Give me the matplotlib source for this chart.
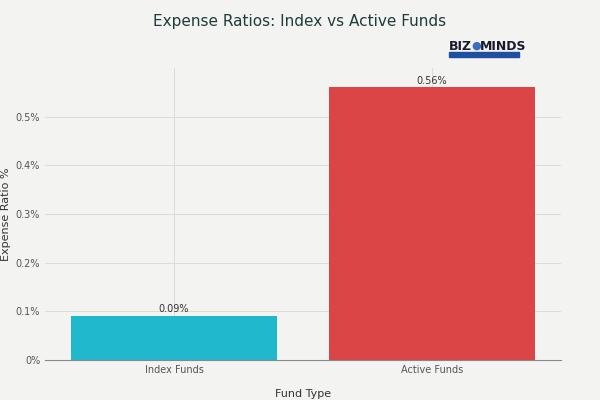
import matplotlib.pyplot as plt
from matplotlib.ticker import FuncFormatter

categories = ["Index Funds", "Active Funds"]
values = [0.09, 0.56]
colors = ["#1fb8cd", "#db4545"]

bg = "#f3f3f1"
fig = plt.figure(figsize=(6, 4), dpi=100, facecolor=bg)
ax = fig.add_axes([0.075, 0.1, 0.86, 0.73], facecolor=bg)

bars = ax.bar(categories, values, color=colors, width=0.8)
for b, v in zip(bars, values):
    ax.text(b.get_x() + b.get_width() / 2, v + 0.004, f"{v:.2f}%", ha="center", va="bottom",
            fontsize=7, color="#333333")

ax.set_ylim(0, 0.6)
ax.set_xlim(-0.5, 1.5)
ax.set_yticks([0, 0.1, 0.2, 0.3, 0.4, 0.5])
ax.yaxis.set_major_formatter(FuncFormatter(lambda y, p: f"{y:.1f}%".replace("0.0%", "0%")))
ax.grid(True, color="#dcdcdc", linewidth=0.7)
ax.set_axisbelow(True)
for s in ["top", "right", "left"]:
    ax.spines[s].set_visible(False)
ax.spines["bottom"].set_color("#888888")
ax.tick_params(length=0, labelsize=7, colors="#555555")
ax.set_xlabel("Fund Type", fontsize=8, color="#333333", labelpad=10)
ax.set_ylabel("Expense Ratio %", fontsize=8, color="#333333")
ax.yaxis.set_label_coords(-0.065, 0.5)

fig.text(0.5, 0.935, "Expense Ratios: Index vs Active Funds", ha="center", fontsize=11,
         fontweight="medium", color="#1f3b3b")

# logo
fig.text(0.748, 0.875, "BIZ", fontsize=9, fontweight="bold", color="#1a1a2e")
fig.text(0.80, 0.875, "MINDS", fontsize=9, fontweight="bold", color="#1a1a2e")
fig.text(0.785, 0.878, "\u25cf", fontsize=8, color="#3a6fc0")
fig.patches.append(plt.Rectangle((0.748, 0.857), 0.117, 0.012, transform=fig.transFigure,
                                 color="#1e4fa0"))

fig.savefig("out.png", dpi=100, facecolor=bg)
